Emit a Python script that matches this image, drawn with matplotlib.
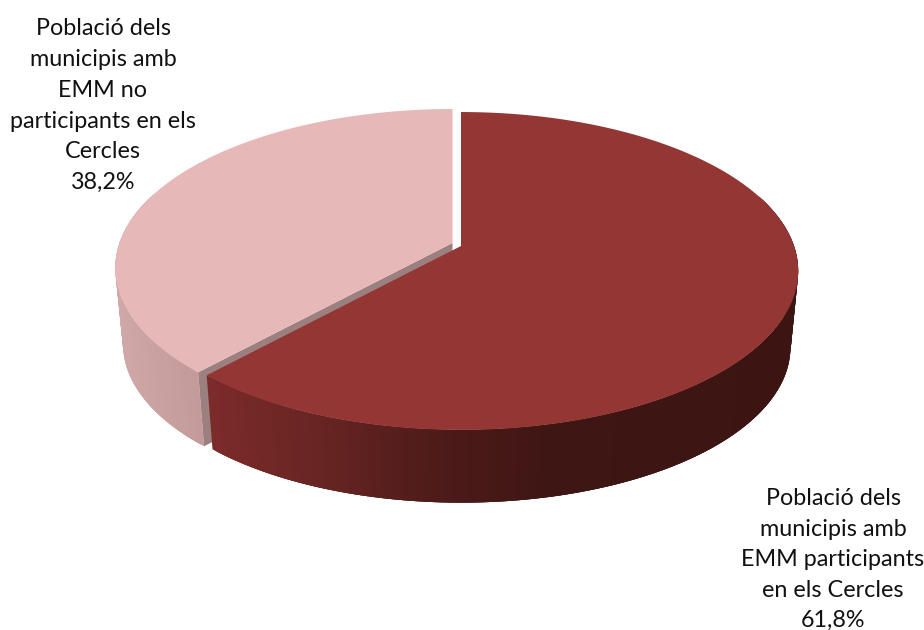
import numpy as np
import matplotlib
matplotlib.use("Agg")
from matplotlib import pyplot as plt
from matplotlib.collections import PolyCollection
from matplotlib.patches import Polygon

values = [61.8, 38.2]  # percent of population, clockwise from 12 o'clock
names = ["Població dels\nmunicipis amb\nEMM participants\nen els Cercles",
         "Població dels\nmunicipis amb\nEMM no\nparticipants en els\nCercles"]
top_colors = ["#943633", "#E6B8B7"]
face_color = "#9C8080"

# side shading, sampled left to right in pixels
dark_x = [205, 300, 430, 550, 800]
dark_rgb = [(124, 43, 41), (106, 38, 36), (78, 27, 25), (62, 22, 20), (60, 21, 19)]
light_x = [115, 205]
light_rgb = [(208, 168, 168), (194, 152, 152)]

# projection settings for the tilted disc
K = 0.157
RX = 333
RY = 155
SHRINK = 0.977
DEPTH = 77


def project(theta, cx, cy, scale=1.0):
    # theta is clockwise from the top, in radians
    w = 1 + K * np.cos(theta)
    return cx + scale * RX * np.sin(theta) / w, cy - scale * RY * np.cos(theta) / w


def side_band(theta, cx, cy, xs, rgb):
    x1, y1 = project(theta, cx, cy)
    x2, y2 = project(theta, cx, cy + DEPTH, SHRINK)
    quads = []
    colors = []
    rgb = np.array(rgb) / 255
    # each strip overlaps the next two so no seams show between them
    for i in range(len(theta) - 3):
        j = i + 3
        quads.append([(x1[i], y1[i]), (x1[j], y1[j]), (x2[j], y2[j]), (x2[i], y2[i])])
        mid = (x1[i] + x1[j]) / 2
        colors.append([np.interp(mid, xs, rgb[:, c]) for c in range(3)])
    return PolyCollection(quads, facecolors=colors, edgecolors="none")


fig = plt.figure(figsize=(9.24, 6.3), dpi=100)
ax = fig.add_axes([0, 0, 1, 1])
ax.set_xlim(0, 924)
ax.set_ylim(630, 0)
ax.axis("off")

split = np.radians(values[0] * 3.6)
dark_c = (461, 246)
light_c = (452.5, 243)

# light slice first, the dark one sits in front of it
theta = np.linspace(split, 2 * np.pi, 200)
visible = theta[theta < np.radians(290)]
ax.add_collection(side_band(visible, *light_c, light_x, light_rgb))
sx, sy = project(split, *light_c)
bx, by = project(split, light_c[0], light_c[1] + DEPTH, SHRINK)
ax.add_patch(Polygon([light_c, (sx, sy), (bx, by), (light_c[0], light_c[1] + DEPTH)],
                     fc=face_color, ec="none"))
x, y = project(theta, *light_c)
ax.add_patch(Polygon(np.r_[[light_c], np.c_[x, y]], fc=top_colors[1], ec="none"))

theta = np.linspace(0, split, 400)
visible = theta[theta > np.radians(70)]
ax.add_collection(side_band(visible, *dark_c, dark_x, dark_rgb))
x, y = project(theta, *dark_c)
ax.add_patch(Polygon(np.r_[[dark_c], np.c_[x, y]], fc=top_colors[0], ec="none"))

font = ["Lato", "DejaVu Sans"]
pct = [f"{v:.1f}%".replace(".", ",") for v in values]
ax.text(833, 488, names[0] + "\n" + pct[0], ha="center", va="top", fontsize=16.8,
        family=font, color="#111111", linespacing=1.56)
ax.text(103, 18, names[1] + "\n" + pct[1], ha="center", va="top", fontsize=16.8,
        family=font, color="#111111", linespacing=1.58)

fig.savefig("out.png", dpi=100)
